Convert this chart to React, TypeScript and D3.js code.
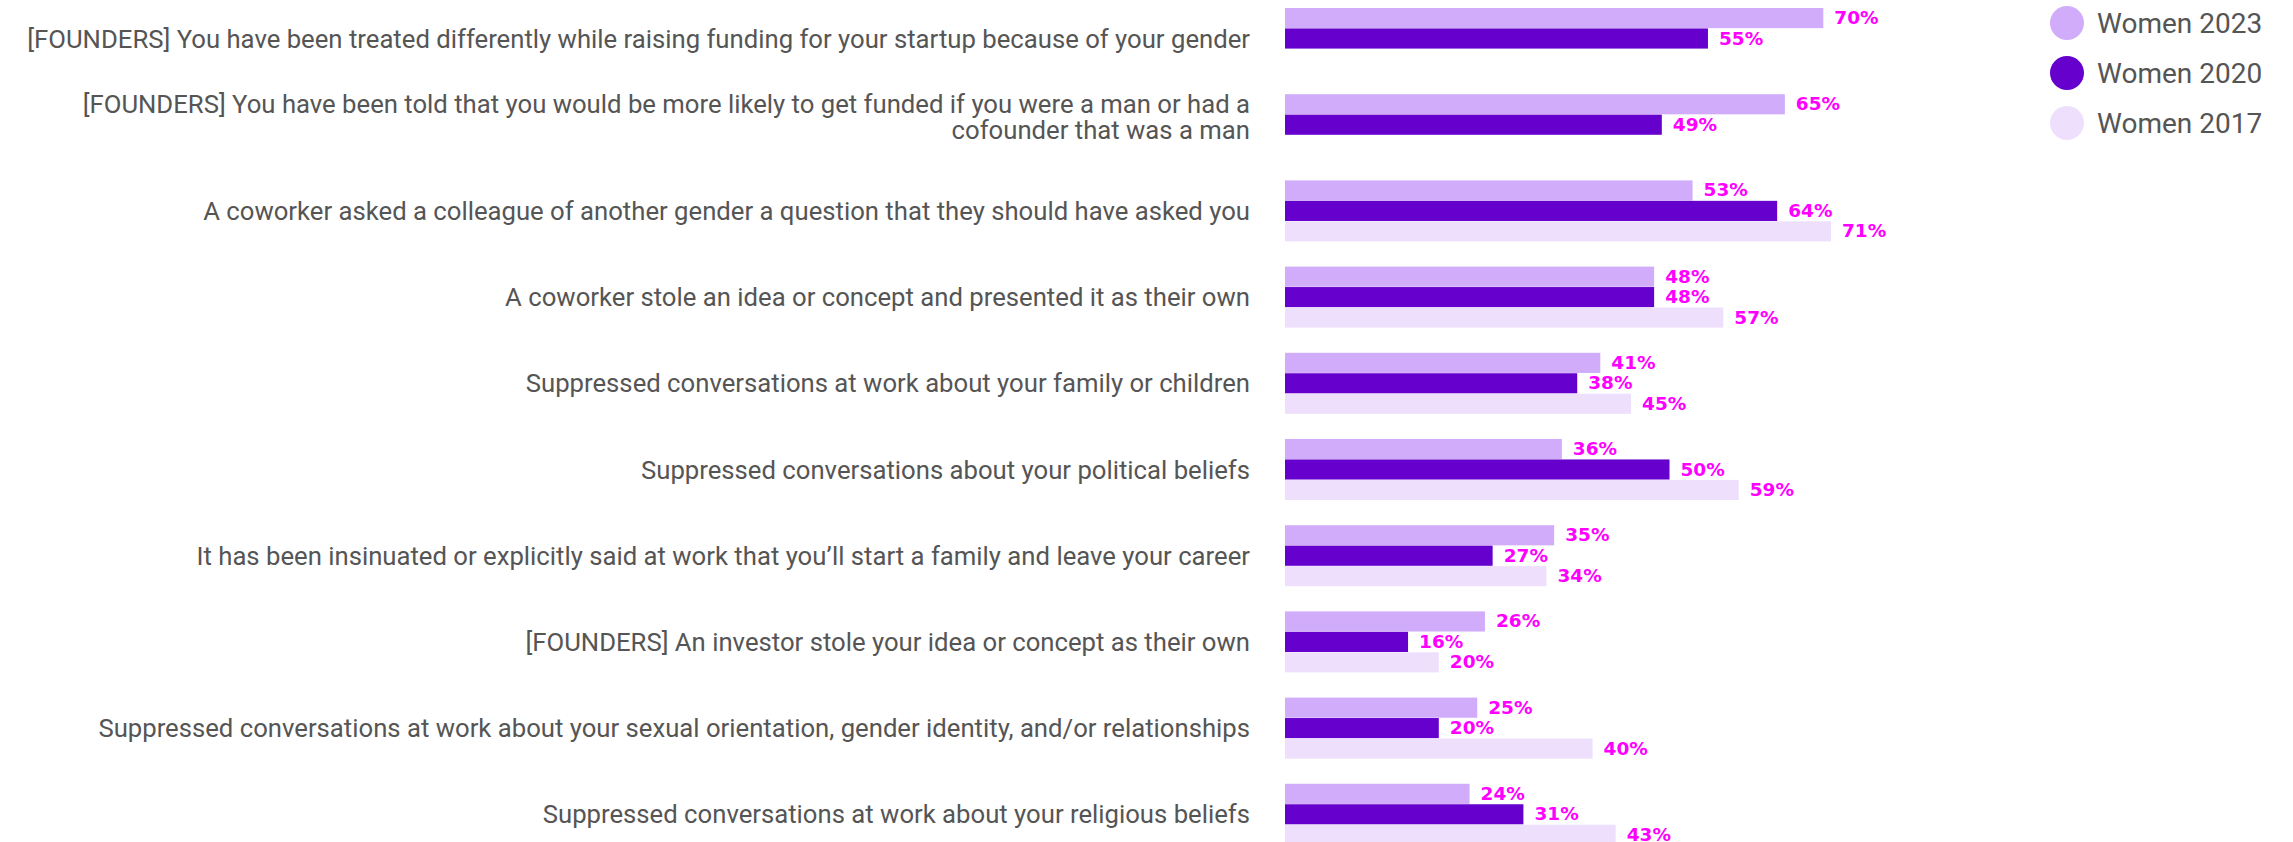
import React from "react";
import * as d3 from "d3";

const categories: string[] = [
  "[FOUNDERS] You have been treated differently while raising funding for your startup because of your gender",
  "[FOUNDERS] You have been told that you would be more likely to get funded if you were a man or had a|cofounder that was a man",
  "A coworker asked a colleague of another gender a question that they should have asked you",
  "A coworker stole an idea or concept and presented it as their own",
  "Suppressed conversations at work about your family or children",
  "Suppressed conversations about your political beliefs",
  "It has been insinuated or explicitly said at work that you\u2019ll start a family and leave your career",
  "[FOUNDERS] An investor stole your idea or concept as their own",
  "Suppressed conversations at work about your sexual orientation, gender identity, and/or relationships",
  "Suppressed conversations at work about your religious beliefs",
];

const seriesNames: string[] = ["Women 2023", "Women 2020", "Women 2017"];
const women2023: (number | null)[] = [70, 65, 53, 48, 41, 36, 35, 26, 25, 24];
const women2020: (number | null)[] = [55, 49, 64, 48, 38, 50, 27, 16, 20, 31];
const women2017: (number | null)[] = [null, null, 71, 57, 45, 59, 34, 20, 40, 43];
const seriesColors: string[] = ["#d0acfb", "#6600cc", "#eee0fd"];

const W = 2293;
const H = 842;

export default function App() {
  const seriesValues = [women2023, women2020, women2017];
  const x = d3.scaleLinear().domain([0, 71]).range([1285, 1831]);
  const y = d3
    .scaleBand<number>()
    .domain(d3.range(categories.length))
    .range([8, 8 + 86.2 * (categories.length - 0.292)])
    .paddingInner(0.292)
    .paddingOuter(0);
  const sub = d3
    .scaleBand<number>()
    .domain(d3.range(seriesNames.length))
    .range([0, y.bandwidth()])
    .paddingInner(0.015);

  const labelFont = "Roboto, 'Liberation Sans', sans-serif";
  const valueFont = "'DejaVu Sans', sans-serif";

  return (
    <svg
      width={W}
      height={H}
      style={{ position: "absolute", left: 0, top: 0, background: "#fff" }}
    >
      {categories.map((cat, i) => {
        const y0 = y(i)!;
        const center = y0 + y.bandwidth() / 2;
        const lines = cat.split("|");
        const lh = 26;
        return (
          <g key={i}>
            {lines.map((ln, k) => (
              <text
                key={k}
                x={1250}
                y={center - (lines.length - 1 - k) * lh + (lines.length > 1 ? 5 : 0)}
                textAnchor="end"
                dominantBaseline="central"
                fontFamily={labelFont}
                fontSize={25.7}
                fill="#555555"
              >
                {ln}
              </text>
            ))}
            {seriesValues.map((vals, s) => {
              const v = vals[i];
              if (v == null) return null;
              const by = y0 + sub(s)!;
              return (
                <g key={s}>
                  <rect
                    x={x(0)}
                    y={by}
                    width={x(v) - x(0)}
                    height={sub.bandwidth()}
                    fill={seriesColors[s]}
                  />
                  <text
                    x={x(v) + 11}
                    y={by + sub.bandwidth() / 2 - 0.5}
                    dominantBaseline="central"
                    fontFamily={valueFont}
                    fontWeight={700}
                    fontSize={18.5}
                    fill="#ff00ff"
                  >
                    {v}%
                  </text>
                </g>
              );
            })}
          </g>
        );
      })}
      {seriesNames.map((name, s) => (
        <g key={name}>
          <circle cx={2067} cy={23 + s * 50} r={17} fill={seriesColors[s]} />
          <text
            x={2097}
            y={23 + s * 50}
            dominantBaseline="central"
            fontFamily={labelFont}
            fontSize={28}
            fill="#555555"
          >
            {name}
          </text>
        </g>
      ))}
    </svg>
  );
}
